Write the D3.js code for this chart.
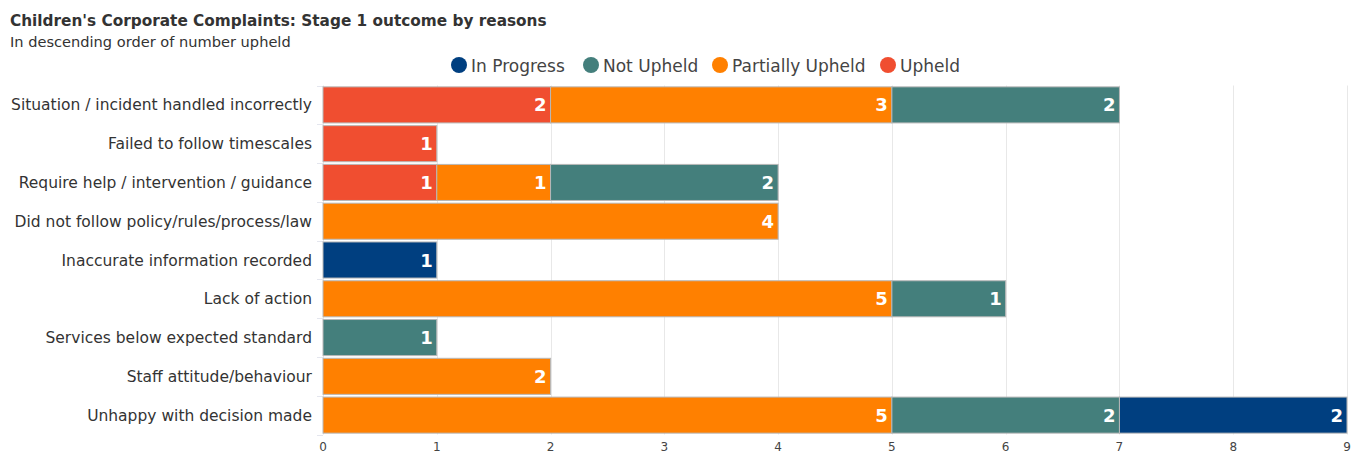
<!DOCTYPE html>
<html>
<head>
<meta charset="utf-8">
<script src="https://cdn.jsdelivr.net/npm/d3@7"></script>
<style>
  body { margin: 0; background: #fff; }
  svg { display: block; font-family: "DejaVu Sans", Verdana, sans-serif; }
</style>
</head>
<body>
<svg id="chart" width="1352" height="452"></svg>
<script>
// chart data
// ----------
var categories = [
  "Situation / incident handled incorrectly",
  "Failed to follow timescales",
  "Require help / intervention / guidance",
  "Did not follow policy/rules/process/law",
  "Inaccurate information recorded",
  "Lack of action",
  "Services below expected standard",
  "Staff attitude/behaviour",
  "Unhappy with decision made"
];
var seriesNames = ["Upheld", "Partially Upheld", "Not Upheld", "In Progress"];
var upheld          = [2, 1, 1, 0, 0, 0, 0, 0, 0];
var partiallyUpheld = [3, 0, 1, 4, 0, 5, 0, 2, 5];
var notUpheld       = [2, 0, 2, 0, 0, 1, 1, 0, 2];
var inProgress      = [0, 0, 0, 0, 1, 0, 0, 0, 2];
var xTicks = [0, 1, 2, 3, 4, 5, 6, 7, 8, 9];

var legendOrder = ["In Progress", "Not Upheld", "Partially Upheld", "Upheld"];
var colors = {
  "In Progress": "#003f80",
  "Not Upheld": "#447f7c",
  "Partially Upheld": "#ff8000",
  "Upheld": "#f04e30"
};

// build table for the stack
// -------------------------
var table = categories.map(function(c, i){
  return {
    cat: c,
    "Upheld": upheld[i],
    "Partially Upheld": partiallyUpheld[i],
    "Not Upheld": notUpheld[i],
    "In Progress": inProgress[i]
  };
});
var stacked = d3.stack().keys(seriesNames)(table);

var margin = {left: 323, right: 5, top: 85.5, bottom: 17.5};
var W = 1352, H = 452;
var svg = d3.select("#chart");

var x = d3.scaleLinear().domain([0, 9]).range([margin.left, W - margin.right]);
var y = d3.scaleBand().domain(categories).range([margin.top, H - margin.bottom]).paddingInner(0.07).paddingOuter(0.035);

// title
// -----
svg.append("text").attr("x", 10).attr("y", 26)
  .attr("style", "font-size:15.3px;font-weight:bold;fill:#333;")
  .text("Children's Corporate Complaints: Stage 1 outcome by reasons");
svg.append("text").attr("x", 10).attr("y", 47)
  .attr("style", "font-size:14.6px;fill:#333;")
  .text("In descending order of number upheld");

// legend
// ------
var legendX = [459, 591, 720, 888];
var lg = svg.append("g");
legendOrder.forEach(function(name, i){
  lg.append("circle").attr("cx", legendX[i]).attr("cy", 65).attr("r", 8).attr("fill", colors[name]);
  lg.append("text").attr("x", legendX[i] + 12).attr("y", 72)
    .attr("style", "font-size:17px;fill:#444;")
    .text(name);
});

// grid lines
// ----------
svg.append("g").selectAll("line").data(xTicks).join("line")
  .attr("x1", function(d){ return Math.round(x(d)) + 0.5; })
  .attr("x2", function(d){ return Math.round(x(d)) + 0.5; })
  .attr("y1", margin.top).attr("y2", H - margin.bottom)
  .attr("stroke", "#e8e8e8").attr("stroke-width", 1);

// y axis ticks
var bounds = categories.map(function(c){ return y(c) - y.step() * y.paddingInner() / 2; });
bounds.push(H - margin.bottom);
svg.append("g").selectAll("line").data(bounds).join("line")
  .attr("x1", margin.left - 6).attr("x2", margin.left)
  .attr("y1", function(d){ return Math.round(d) + 0.5; })
  .attr("y2", function(d){ return Math.round(d) + 0.5; })
  .attr("stroke", "#e4e6ee");

// bars
// ----
var gBars = svg.append("g");
stacked.forEach(function(layer){
  var key = layer.key;
  layer.forEach(function(seg, i){
    if (seg[1] - seg[0] <= 0) return;
    var cat = categories[i];
    gBars.append("rect")
      .attr("x", x(seg[0]))
      .attr("y", y(cat))
      .attr("width", x(seg[1]) - x(seg[0]))
      .attr("height", y.bandwidth())
      .attr("fill", colors[key])
      .attr("stroke", "#b8b8b8").attr("stroke-width", 1);
    gBars.append("text")
      .attr("x", x(seg[1]) - 4)
      .attr("y", y(cat) + y.bandwidth() / 2 + 6.5)
      .attr("text-anchor", "end")
      .attr("style", "font-size:18px;font-weight:bold;fill:#fff;")
      .text(seg[1] - seg[0]);
  });
});

// category labels
// ---------------
svg.append("g").selectAll("text").data(categories).join("text")
  .attr("x", margin.left - 11)
  .attr("y", function(d){ return y(d) + y.bandwidth() / 2 + 5.5; })
  .attr("text-anchor", "end")
  .attr("style", "font-size:15.5px;fill:#333;")
  .text(function(d){ return d; });

// x tick labels
// -------------
svg.append("g").selectAll("text").data(xTicks).join("text")
  .attr("x", function(d){ return x(d); })
  .attr("y", 450.5)
  .attr("text-anchor", "middle")
  .attr("style", "font-size:12px;fill:#444;")
  .text(function(d){ return d; });
</script>
</body>
</html>
